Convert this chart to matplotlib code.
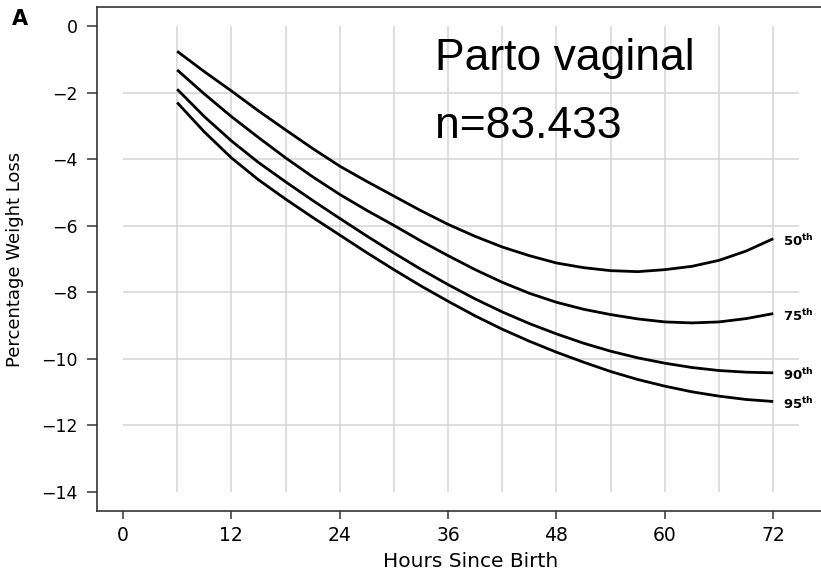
import matplotlib
matplotlib.use("Agg")
import matplotlib.pyplot as plt

# percentile curves of weight loss (every 3 h)
hours = [6, 9, 12, 15, 18, 21, 24, 27, 30, 33, 36, 39, 42, 45, 48, 51, 54, 57, 60, 63, 66, 69, 72]
p50 = [-0.76, -1.37, -1.95, -2.55, -3.12, -3.68, -4.21, -4.67, -5.11, -5.55, -5.96, -6.32,
       -6.64, -6.90, -7.12, -7.26, -7.35, -7.38, -7.32, -7.22, -7.04, -6.76, -6.39]
p75 = [-1.32, -2.04, -2.72, -3.35, -3.96, -4.53, -5.06, -5.54, -5.99, -6.46, -6.90, -7.32,
       -7.70, -8.03, -8.30, -8.51, -8.67, -8.80, -8.89, -8.92, -8.89, -8.79, -8.64]
p90 = [-1.90, -2.72, -3.45, -4.10, -4.68, -5.24, -5.78, -6.31, -6.82, -7.31, -7.77, -8.20,
       -8.59, -8.94, -9.25, -9.53, -9.77, -9.97, -10.13, -10.26, -10.35, -10.40, -10.42]
p95 = [-2.30, -3.18, -3.96, -4.62, -5.20, -5.75, -6.28, -6.81, -7.32, -7.81, -8.27, -8.71,
       -9.11, -9.47, -9.80, -10.10, -10.38, -10.62, -10.82, -10.99, -11.12, -11.22, -11.28]
curve_labels = ["50", "75", "90", "95"]

xticks = [0, 12, 24, 36, 48, 60, 72]
yticks = [0, -2, -4, -6, -8, -10, -12, -14]
vgrid = [6, 12, 18, 24, 30, 36, 42, 48, 54, 60, 66, 72]
hgrid = [-2, -4, -6, -8, -10, -12]

fig = plt.figure(figsize=(8.21, 5.72), dpi=100)
# axes runs past the right edge of the canvas, like the cropped original
ax = fig.add_axes([96.5 / 821, 61 / 572, 749 / 821, 504 / 572])
ax.set_xlim(-2.93, 80.0)
ax.set_ylim(-14.57, 0.57)

grid_col = "#d4d4d4"
ax.vlines(vgrid, -14, 0, color=grid_col, lw=1.1, zorder=1)
ax.hlines(hgrid, 0, 74.9, color=grid_col, lw=1.1, zorder=1)

for vals, lab in zip([p50, p75, p90, p95], curve_labels):
    ax.plot(hours, vals, color="black", lw=2.0, solid_joinstyle="round",
            solid_capstyle="butt", zorder=3)
    ax.annotate(r"$\mathbf{%s^{th}}$" % lab, xy=(hours[-1], vals[-1]),
                xytext=(7, -1.5), textcoords="offset points",
                va="center", ha="left", fontsize=9.5)

spine_col = "#333333"
for side in ["left", "top", "bottom"]:
    ax.spines[side].set_color(spine_col)
    ax.spines[side].set_linewidth(1.2)
ax.spines["right"].set_visible(False)

ax.set_xticks(xticks)
ax.set_xticklabels([str(v) for v in xticks])
ax.set_yticks(yticks)
ax.set_yticklabels([str(v).replace("-", "\u2212") for v in yticks])
ax.tick_params(axis="x", length=5.5, width=1.1, color=spine_col, pad=5, labelsize=13.5)
ax.tick_params(axis="y", length=7.2, width=1.1, color=spine_col, pad=6.5, labelsize=12.5)

ax.set_xlabel("Hours Since Birth", fontsize=14.5, labelpad=5)
ax.set_ylabel("Percentage Weight Loss", fontsize=13)
ax.yaxis.set_label_coords(-0.097, 0.5)

fig.text(12 / 821, 1 - 9 / 572, "A", fontsize=15, fontweight="bold", va="top", ha="left")

fig.text(435 / 821, 1 - 70 / 572, "Parto vaginal", family="Liberation Sans",
         fontsize=32, va="baseline", ha="left")
fig.text(435 / 821, 1 - 138 / 572, "n=83.433", family="Liberation Sans",
         fontsize=32, va="baseline", ha="left")

fig.savefig("out.png", dpi=100)
